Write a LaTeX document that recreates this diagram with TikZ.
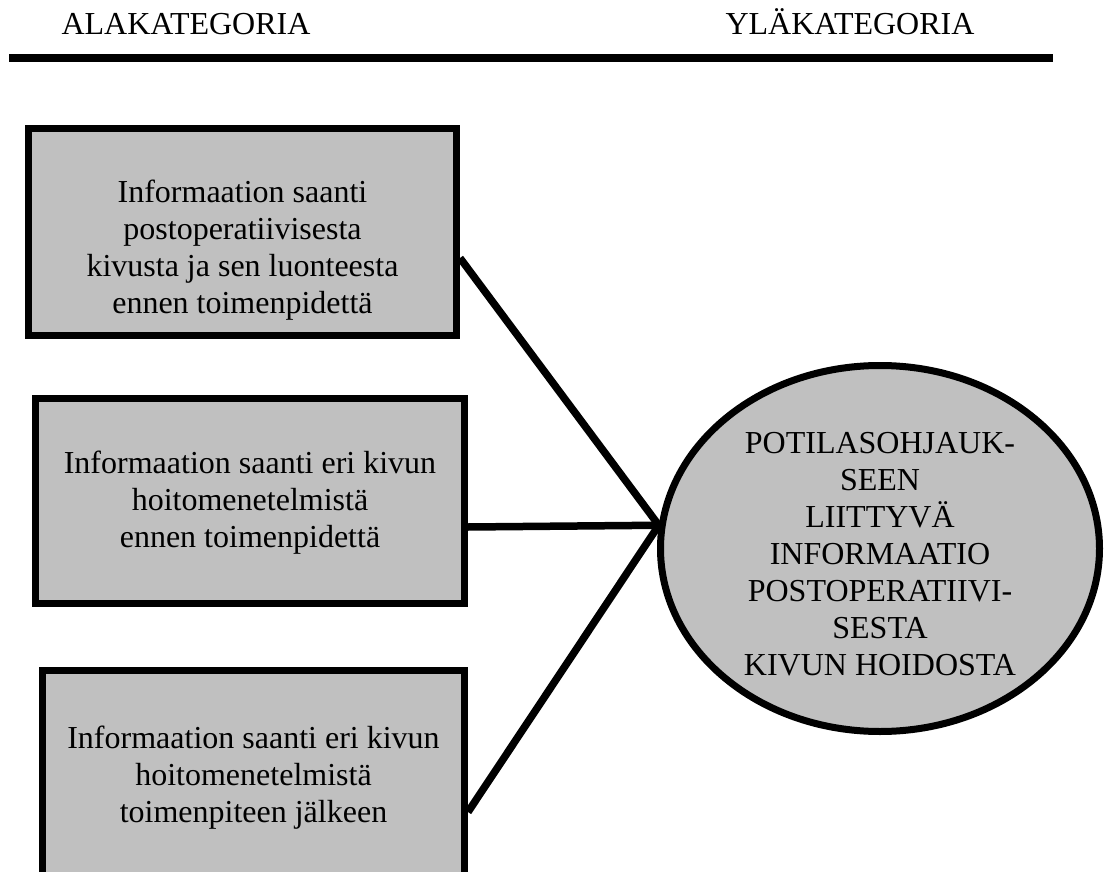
\documentclass[tikz,border=0pt]{standalone}
\usepackage{fontspec}
\setmainfont{Liberation Serif}
\usepackage{tikz}
\usetikzlibrary{shapes.geometric, positioning, calc}
\definecolor{boxgray}{RGB}{192, 192, 192}

\tikzset{
    catbox/.style={draw=black, line width=7pt, fill=boxgray, inner sep=0pt, minimum width=428pt},
    cattext/.style={align=center, inner sep=0pt, font=\fontsize{32}{37}\selectfont},
    hubnode/.style={ellipse, draw=black, line width=7pt, fill=boxgray, inner sep=0pt,
        minimum width=439pt, minimum height=366pt},
    headtext/.style={anchor=base, inner sep=0pt, font=\fontsize{32}{37}\selectfont},
    linkline/.style={line width=7.5pt}
}

\begin{document}
\begin{tikzpicture}[x=1pt, y=-1pt]
        \useasboundingbox (0,0) rectangle (1106,872);

        % otsikot
        \node[headtext] (ala) at (186,35) {ALAKATEGORIA};
        \node[headtext] (yla) at (850,35) {YLÄKATEGORIA};
        \draw[line width=8pt] (9,58) -- (1053,58);

        % alakategoriat
        \node[catbox, minimum height=207pt] (box1) at (242.5,232) {};
        \node[catbox, minimum width=429pt, minimum height=205pt] (box2) at (250,501) {};
        \node[catbox, minimum width=422pt, minimum height=231pt] (box3) at (253.5,786) {};

        \node[cattext] (txt1) at ([yshift=-18pt]box1.center) {Informaation saanti\\postoperatiivisesta\\kivusta ja sen luonteesta\\ennen toimenpidettä};
        \node[cattext] (txt2) at ([yshift=-2pt]box2.center) {Informaation saanti eri kivun\\hoitomenetelmistä\\ennen toimenpidettä};
        \node[cattext] (txt3) at ([yshift=8pt]box3.center) {Informaation saanti eri kivun\\hoitomenetelmistä\\toimenpiteen jälkeen};

        % yläkategoria
        \node[hubnode] (hub) at (880,548.5) {};
        \node[cattext] (hubtxt) at ([yshift=-6pt]hub.center) {POTILASOHJAUK-\\SEEN\\LIITTYVÄ\\INFORMAATIO\\POSTOPERATIIVI-\\SESTA\\KIVUN HOIDOSTA};

        % yhteydet
        \draw[linkline] ([yshift=-26pt]box1.east) -- (hub.174);
        \draw[linkline] ([yshift=-26pt]box2.east) -- (hub.174);
        \draw[linkline] ([yshift=-26pt]box3.east) -- (hub.174);
    \end{tikzpicture}
\end{document}
